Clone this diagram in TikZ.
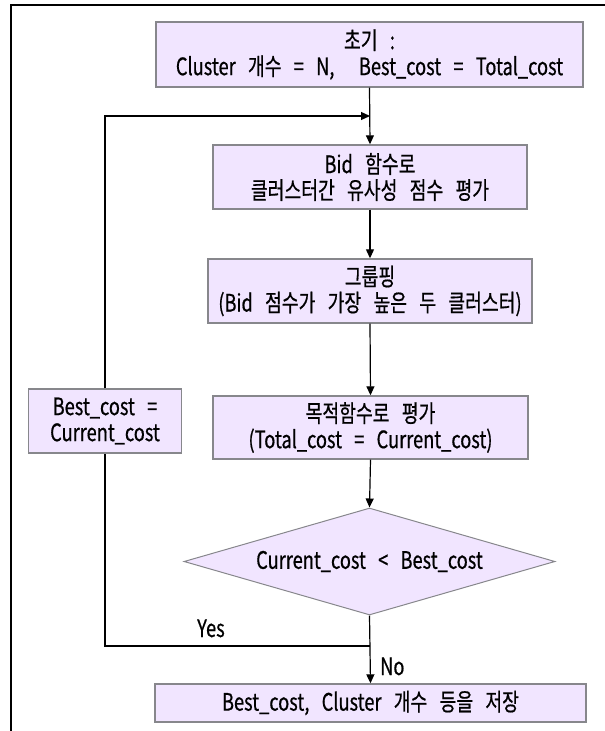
\documentclass[tikz,border=0pt]{standalone}
\usepackage{fontspec}
\setmainfont{Noto Sans CJK KR}[FakeStretch=0.76, WordSpace=3.0, FakeBold=0.6]
\usetikzlibrary{arrows.meta,shapes.geometric}
\definecolor{boxfill}{RGB}{241,229,255}
\definecolor{boxline}{RGB}{135,135,140}
\tikzset{
  procbox/.style={draw=boxline, line width=1.4pt, fill=boxfill, align=center,
    inner sep=0pt, font=\fontsize{24}{26}\selectfont},
  decbox/.style={diamond, draw=boxline, line width=1pt, fill=boxfill, align=center,
    inner sep=0pt, aspect=3.47, font=\fontsize{24}{26}\selectfont},
  flow/.style={draw=black, line width=1.2pt, -{Triangle[width=8pt,length=9pt]}},
  plain/.style={draw=black, line width=1.2pt},
  frameline/.style={draw=black, line width=2.6pt},
  tag/.style={font=\fontsize{24}{26}\selectfont, inner sep=0pt}
}
\begin{document}
\begin{tikzpicture}[x=1pt,y=-1pt]
  \useasboundingbox (0,0) rectangle (605,731);
  % page frame
  \draw[frameline] (10,5) -- (605,5);
  \draw[frameline] (11,4) -- (11,731);

  % process steps
  \node[procbox, minimum width=427pt, minimum height=65pt] (init) at (369.5,54.5)
    {초기 :\\Cluster 개수 = N,~ Best\_cost = Total\_cost};
  \node[procbox, minimum width=314pt, minimum height=64pt] (bid) at (370,177)
    {Bid 함수로\\클러스터간 유사성 점수 평가};
  \node[procbox, minimum width=324pt, minimum height=64pt] (group) at (370,291)
    {그룹핑\\(Bid 점수가 가장 높은 두 클러스터)};
  \node[procbox, minimum width=315pt, minimum height=63pt] (eval) at (370.5,427.5)
    {목적함수로 평가\\(Total\_cost = Current\_cost)};
  \node[decbox, minimum width=371pt, minimum height=107pt] (test) at (369.5,561.5)
    {Current\_cost < Best\_cost};
  \node[procbox, minimum width=431pt, minimum height=38pt] (save) at (370.5,703)
    {Best\_cost, Cluster 개수 등을 저장};
  \node[procbox, minimum width=153pt, minimum height=64pt] (best) at (105,421)
    {Best\_cost =\\Current\_cost};

  % helper points on the main line
  \coordinate (join) at (370,116);
  \coordinate (yes) at (370,646);

  % connectors
  \draw[flow] (init.south) -- (bid.north);
  \draw[flow] (best.north) |- (join);
  \draw[flow] (bid.south) -- (group.north);
  \draw[flow] (group.south) -- (eval.north);
  \draw[flow] (eval.south) -- (test.north);
  \draw[flow] (test.south) -- (save.north);
  \draw[plain] (yes) -| (best.south);

  % branch labels
  \node[tag, anchor=base west] (yeslbl) at (197,637) {Yes};
  \node[tag, anchor=base west] (nolbl) at (380,675) {No};
\end{tikzpicture}
\end{document}
